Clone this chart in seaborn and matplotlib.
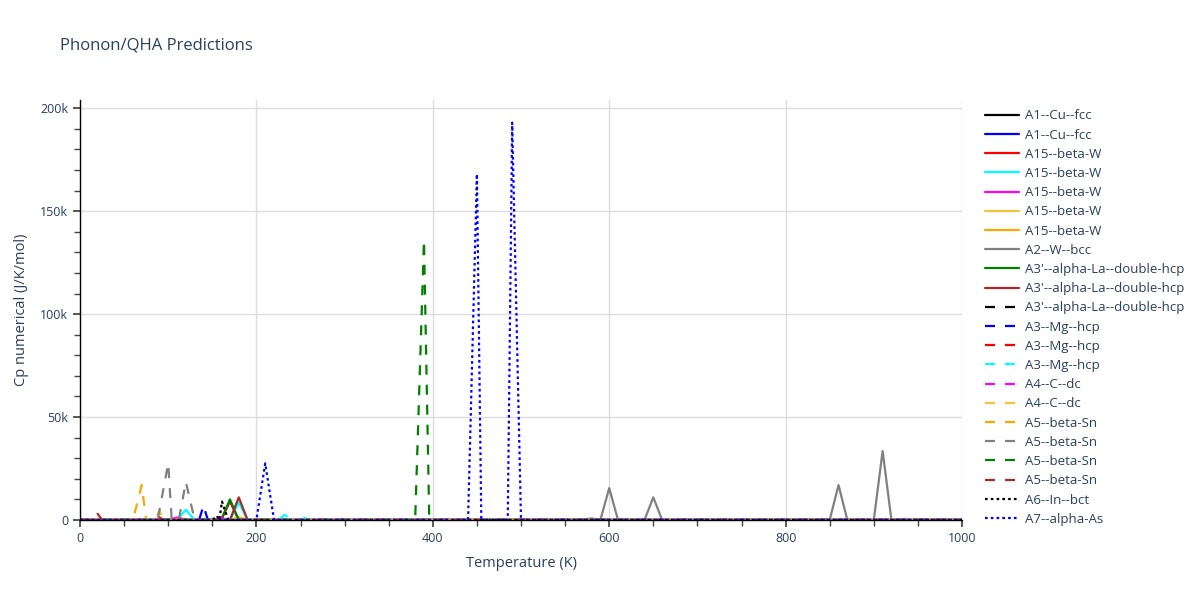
"""
Phonon/QHA predictions: numerical Cp vs temperature for a set of prototype structures.
"""
import matplotlib
matplotlib.use("Agg")
import matplotlib.pyplot as plt
import seaborn as sns
import pandas as pd
from matplotlib.ticker import MultipleLocator, FuncFormatter

# legend labels, in plot order
labels = [
    "A1--Cu--fcc", "A1--Cu--fcc",
    "A15--beta-W", "A15--beta-W", "A15--beta-W", "A15--beta-W", "A15--beta-W",
    "A2--W--bcc",
    "A3'--alpha-La--double-hcp", "A3'--alpha-La--double-hcp", "A3'--alpha-La--double-hcp",
    "A3--Mg--hcp", "A3--Mg--hcp", "A3--Mg--hcp",
    "A4--C--dc", "A4--C--dc",
    "A5--beta-Sn", "A5--beta-Sn", "A5--beta-Sn", "A5--beta-Sn",
    "A6--In--bct", "A7--alpha-As",
]

colors = [
    "black", "blue", "red", "cyan", "magenta", "#f2c43a", "orange", "gray", "green", "brown",
    "black", "blue", "red", "cyan", "magenta", "#f2c43a", "orange", "gray", "green", "brown",
    "black", "blue",
]
styles = ["solid"] * 10 + ["dash"] * 10 + ["dot"] * 2

# temperature (K) and Cp (J/K/mol) points
temps = [
    [0, 1000],
    [0, 1000],
    [0, 160, 170, 180, 1000],
    [0, 110, 120, 130, 170, 180, 190, 1000],
    [0, 100, 110, 120, 1000],
    [0, 170, 180, 190, 1000],
    [0, 105, 115, 125, 1000],
    [0, 570, 580, 590, 600, 610, 640, 650, 660, 850, 860, 870, 900, 910, 920, 1000],
    [0, 160, 170, 180, 1000],
    [0, 170, 180, 190, 1000],
    [0, 1000],
    [0, 135, 140, 145, 150, 155, 1000],
    [0, 80, 87, 95, 1000],
    [0, 225, 232, 240, 250, 255, 262, 1000],
    [0, 155, 160, 165, 1000],
    [0, 85, 90, 95, 1000],
    [0, 60, 70, 75, 1000],
    [0, 88, 100, 104, 112, 120, 130, 1000],
    [0, 380, 390, 396, 1000],
    [0, 15, 20, 25, 1000],
    [0, 150, 155, 158, 161, 168, 1000],
    [0, 200, 210, 220, 440, 450, 455, 485, 490, 500, 1000],
]
cps = [
    [0, 0],
    [0, 0],
    [0, 0, 9000, 0, 0],
    [0, 0, 5000, 0, 0, 8500, 0, 0],
    [0, 0, 1200, 0, 0],
    [0, 0, 1500, 0, 0],
    [0, 0, 800, 0, 0],
    [0, 0, 800, 0, 15500, 0, 0, 11000, 0, 0, 17000, 0, 0, 33500, 0, 0],
    [0, 0, 10000, 0, 0],
    [0, 0, 11000, 0, 0],
    [0, 0],
    [0, 0, 7000, 0, 1500, 0, 0],
    [0, 0, 2000, 0, 0],
    [0, 0, 2500, 0, 0, 1000, 0, 0],
    [0, 0, 1500, 0, 0],
    [0, 0, 4500, 0, 0],
    [0, 0, 17000, 0, 0],
    [0, 0, 27500, 0, 0, 18500, 0, 0],
    [0, 0, 136000, 0, 0],
    [0, 0, 3000, 0, 0],
    [0, 0, 2000, 0, 9000, 0, 0],
    [0, 0, 27500, 0, 0, 168000, 0, 0, 193000, 0, 0],
]

dash_map = {"solid": "-", "dash": (0, (4.5, 4.5)), "dot": (0, (1.2, 1.4))}

sns.set_theme(style="white")
plt.rcParams["font.family"] = ["Open Sans", "DejaVu Sans"]
text_color = "#2a3f5f"

fig = plt.figure(figsize=(12, 6), dpi=100)
ax = fig.add_axes([80 / 1200, 80 / 600, 882 / 1200, 420 / 600])

for i, label in enumerate(labels):
    df = pd.DataFrame({"T": temps[i], "Cp": cps[i]})
    sns.lineplot(
        data=df, x="T", y="Cp", ax=ax, color=colors[i], label=label,
        linestyle=dash_map[styles[i]], linewidth=1.6, estimator=None,
    )

ax.set_xlim(0, 1000)
ax.set_ylim(0, 204000)
ax.xaxis.set_major_locator(MultipleLocator(200))
ax.xaxis.set_minor_locator(MultipleLocator(50))
ax.yaxis.set_major_locator(MultipleLocator(50000))
ax.yaxis.set_minor_locator(MultipleLocator(10000))
ax.yaxis.set_major_formatter(FuncFormatter(lambda v, p: "0" if v == 0 else f"{int(v / 1000)}k"))
ax.grid(True, which="major", color="#dddddd", linewidth=1)
ax.set_axisbelow(True)

for side in ["top", "right"]:
    ax.spines[side].set_visible(False)
for side in ["left", "bottom"]:
    ax.spines[side].set_color("black")
    ax.spines[side].set_linewidth(1)
ax.tick_params(which="both", direction="out", color="#444444", labelcolor=text_color,
               labelsize=9, bottom=True, left=True)
ax.tick_params(which="major", length=5)
ax.tick_params(which="minor", length=4)

ax.set_xlabel("Temperature (K)", fontsize=10.5, color=text_color, labelpad=8)
ax.set_ylabel("Cp numerical (J/K/mol)", fontsize=10.5, color=text_color, labelpad=8)
fig.text(60 / 1200, 1 - 45 / 600, "Phonon/QHA Predictions", fontsize=12,
         color=text_color, va="center")

leg = ax.legend(loc="upper left", bbox_to_anchor=(1.02, 0.99), frameon=False,
                fontsize=9.5, handlelength=2.6, handletextpad=0.4,
                labelspacing=0.47, borderaxespad=0)
for t in leg.get_texts():
    t.set_color(text_color)

fig.savefig("out.png", dpi=100)
